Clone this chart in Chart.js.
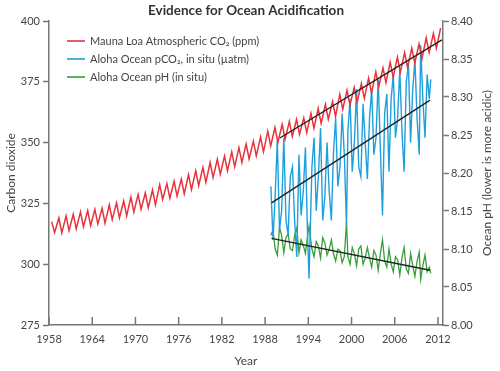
<!DOCTYPE html>
<html>
<head>
  <meta charset="utf-8">
  <title>Evidence for Ocean Acidification</title>
  <script src="https://cdn.jsdelivr.net/npm/chart.js"></script>
  <style>
    body { margin: 0; background: #fff; }
    canvas { display: block; }
  </style>
</head>
<body>
<canvas id="acidChart" width="500" height="371"></canvas>

<script>
  // Mauna Loa CO2 (ppm): seasonal peak (May) and trough (Oct) per year
  const co2Years = [];
  for (let y = 1958; y <= 2012; y++) co2Years.push(y);
  const co2Peak = [317.5, 319.0, 319.9, 320.6, 321.5, 322.0, 322.6, 323.0, 324.4, 325.2,
                   326.0, 327.6, 328.7, 329.3, 330.5, 332.7, 333.2, 334.1, 335.0, 336.8,
                   338.4, 339.8, 341.8, 343.1, 344.5, 346.2, 347.9, 349.4, 350.6, 352.3,
                   354.7, 356.2, 357.5, 358.7, 359.5, 360.2, 362.0, 364.0, 365.7, 366.9,
                   369.8, 371.5, 372.7, 374.3, 376.5, 379.0, 380.7, 383.0, 385.1, 387.0,
                   388.8, 390.6, 393.1, 394.9, 397.1];
  const co2Trough = [313.0, 312.9, 313.8, 314.5, 315.4, 315.9, 316.5, 316.9, 318.3, 319.1,
                     319.9, 321.5, 322.6, 323.2, 324.4, 326.6, 327.1, 328.0, 328.9, 330.7,
                     332.3, 333.7, 335.7, 337.0, 338.4, 340.1, 341.8, 343.3, 344.5, 346.2,
                     348.6, 350.1, 351.4, 352.6, 353.4, 354.1, 355.9, 357.9, 359.6, 360.8,
                     363.7, 365.4, 366.6, 368.2, 370.4, 372.9, 374.6, 376.9, 379.0, 380.9,
                     382.7, 384.5, 387.0, 388.8];

  // Station ALOHA samples (decimal year)
  const hotTime = [1988.8, 1989.1, 1989.4, 1989.7, 1990.0, 1990.3, 1990.6, 1990.9, 1991.2, 1991.5,
                   1991.8, 1992.1, 1992.4, 1992.7, 1993.0, 1993.3, 1993.6, 1993.9, 1994.1, 1994.5,
                   1994.8, 1995.1, 1995.4, 1995.7, 1996.0, 1996.3, 1996.6, 1996.9, 1997.2, 1997.5,
                   1997.8, 1998.1, 1998.4, 1998.7, 1999.0, 1999.3, 1999.5, 1999.8, 2000.1, 2000.4,
                   2000.7, 2001.0, 2001.3, 2001.6, 2001.9, 2002.2, 2002.5, 2002.8, 2003.1, 2003.4,
                   2003.7, 2004.0, 2004.3, 2004.6, 2004.9, 2005.2, 2005.5, 2005.8, 2006.1, 2006.4,
                   2006.7, 2007.0, 2007.3, 2007.6, 2007.9, 2008.2, 2008.5, 2008.8, 2009.1, 2009.4,
                   2009.6, 2009.9, 2010.2, 2010.5, 2010.8, 2011.0];
  const pco2Uatm = [332, 310, 328, 351, 314, 322, 352, 318, 312, 336,
                    340, 318, 303, 345, 320, 330, 348, 312, 294, 340,
                    352, 322, 336, 356, 318, 328, 350, 330, 318, 346,
                    360, 332, 340, 362, 345, 316, 355, 368, 338, 350,
                    372, 340, 336, 366, 350, 335, 360, 372, 345, 352,
                    376, 348, 320, 362, 370, 338, 368, 378, 352, 360,
                    380, 355, 338, 375, 382, 350, 372, 384, 360, 345,
                    390, 368, 352, 378, 368, 376];
  const oceanPh = [8.118, 8.125, 8.100, 8.092, 8.128, 8.118, 8.095, 8.115, 8.120, 8.100,
                   8.098, 8.118, 8.128, 8.095, 8.112, 8.105, 8.094, 8.118, 8.130, 8.100,
                   8.090, 8.110, 8.104, 8.088, 8.115, 8.108, 8.092, 8.100, 8.112, 8.094,
                   8.084, 8.100, 8.098, 8.082, 8.090, 8.135, 8.090, 8.080, 8.102, 8.094,
                   8.078, 8.100, 8.104, 8.080, 8.088, 8.102, 8.088, 8.076, 8.098, 8.092,
                   8.072, 8.094, 8.112, 8.084, 8.076, 8.100, 8.080, 8.070, 8.090, 8.086,
                   8.066, 8.088, 8.102, 8.074, 8.068, 8.094, 8.078, 8.064, 8.084, 8.096,
                   8.060, 8.078, 8.092, 8.070, 8.076, 8.068];

  // Trend lines (start / end)
  const co2TrendX = [1990.05, 2012.55], co2TrendY = [351.9, 392.2];
  const pco2TrendX = [1988.9, 2010.9], pco2TrendY = [325.2, 367.5];
  const phTrendX = [1988.9, 2010.9], phTrendY = [8.114, 8.072];

  // Axis ticks
  const yearTicks = [1958, 1964, 1970, 1976, 1982, 1988, 1994, 2000, 2006, 2012];
  const co2Ticks = [275, 300, 325, 350, 375, 400];
  const phTicks = [8.00, 8.05, 8.10, 8.15, 8.20, 8.25, 8.30, 8.35, 8.40];

  const legendLabels = ['Mauna Loa Atmospheric CO\u2082 (ppm)',
                        'Aloha Ocean pCO\u2082, in situ (\u00b5atm)',
                        'Aloha Ocean pH (in situ)'];
  const rightTitle = 'Ocean pH (lower is more acidic)';

  const RED = '#e8323c', BLUE = '#1fa0dc', GREEN = '#3a9e3a', TREND = '#222';
  const AXIS = '#777', TEXT = '#444';
  const FONT = 'Lato, "Open Sans", sans-serif';

  const co2Points = [];
  co2Years.forEach((yr, i) => {
    co2Points.push({x: yr + 0.37, y: co2Peak[i]});
    if (i < co2Trough.length) co2Points.push({x: yr + 0.78, y: co2Trough[i]});
  });
  const zip = (xs, ys) => xs.map((x, i) => ({x: x, y: ys[i]}));

  // inside x ticks, right axis title, legend
  const extras = {
    id: 'extras',
    afterDraw(chart) {
      const {ctx, chartArea, scales} = chart;
      ctx.save();
      ctx.strokeStyle = AXIS;
      ctx.lineWidth = 1.5;
      scales.x.ticks.forEach(t => {
        const px = scales.x.getPixelForValue(t.value);
        ctx.beginPath();
        ctx.moveTo(px, chartArea.bottom);
        ctx.lineTo(px, chartArea.bottom - 8);
        ctx.stroke();
      });

      ctx.fillStyle = TEXT;
      ctx.font = '12px ' + FONT;
      ctx.textAlign = 'center';
      ctx.textBaseline = 'middle';
      ctx.save();
      ctx.translate(487, (chartArea.top + chartArea.bottom) / 2);
      ctx.rotate(-Math.PI / 2);
      ctx.fillText(rightTitle, 0, 0);
      ctx.restore();

      ctx.font = '11px ' + FONT;
      ctx.textAlign = 'left';
      [RED, BLUE, GREEN].forEach((c, i) => {
        const y = chartArea.top + 20 + i * 18;
        ctx.strokeStyle = c;
        ctx.lineWidth = 1.6;
        ctx.beginPath();
        ctx.moveTo(chartArea.left + 18, y);
        ctx.lineTo(chartArea.left + 36, y);
        ctx.stroke();
        ctx.fillStyle = TEXT;
        ctx.fillText(legendLabels[i], chartArea.left + 41, y);
      });
      ctx.restore();
    }
  };

  new Chart(document.getElementById('acidChart').getContext('2d'), {
    type: 'line',
    data: {
      datasets: [
        { label: 'CO2 trend', data: zip(co2TrendX, co2TrendY), borderColor: TREND, borderWidth: 1.4, yAxisID: 'y', order: 0 },
        { label: 'pCO2 trend', data: zip(pco2TrendX, pco2TrendY), borderColor: TREND, borderWidth: 1.4, yAxisID: 'y', order: 0 },
        { label: 'pH trend', data: zip(phTrendX, phTrendY), borderColor: TREND, borderWidth: 1.4, yAxisID: 'y1', order: 0 },
        { label: legendLabels[0], data: co2Points, borderColor: RED, borderWidth: 1.5, yAxisID: 'y', order: 1 },
        { label: legendLabels[1], data: zip(hotTime, pco2Uatm), borderColor: BLUE, borderWidth: 1.4, yAxisID: 'y', order: 2 },
        { label: legendLabels[2], data: zip(hotTime, oceanPh), borderColor: GREEN, borderWidth: 1.3, yAxisID: 'y1', order: 3 }
      ]
    },
    options: {
      responsive: false,
      animation: false,
      devicePixelRatio: 1,
      elements: { point: { radius: 0 }, line: { tension: 0, fill: false } },
      layout: { padding: 0 },
      plugins: {
        legend: { display: false },
        tooltip: { enabled: false },
        title: {
          display: true,
          text: 'Evidence for Ocean Acidification',
          fullSize: false,
          color: '#333',
          font: { family: FONT, size: 13.5, weight: 'bold' },
          padding: { top: 3, bottom: 1.8 }
        }
      },
      scales: {
        x: {
          type: 'linear',
          min: 1958,
          max: 2012.7,
          afterBuildTicks: s => { s.ticks = yearTicks.map(v => ({value: v})); },
          afterFit: s => { s.height = 46; },
          ticks: { callback: v => String(v), color: TEXT, font: { family: FONT, size: 11 }, padding: 8, maxRotation: 0, autoSkip: false },
          grid: { drawOnChartArea: false, drawTicks: false },
          border: { color: AXIS, width: 1.5 },
          title: { display: true, text: 'Year', color: TEXT, font: { family: FONT, size: 12 }, padding: { top: 0, bottom: 3 } }
        },
        y: {
          position: 'left',
          min: 275,
          max: 400,
          afterBuildTicks: s => { s.ticks = co2Ticks.map(v => ({value: v})); },
          afterFit: s => { s.width = 49; },
          ticks: { color: TEXT, font: { family: FONT, size: 11 }, padding: 3 },
          grid: { drawOnChartArea: false, tickLength: 6, tickColor: AXIS, tickWidth: 1.5 },
          border: { color: AXIS, width: 1.5 },
          title: { display: true, text: 'Carbon dioxide', color: TEXT, font: { family: FONT, size: 12 }, padding: { top: 4, bottom: 0 } }
        },
        y1: {
          position: 'right',
          min: 8.0,
          max: 8.4,
          afterBuildTicks: s => { s.ticks = phTicks.map(v => ({value: v})); },
          afterFit: s => { s.width = 57; },
          ticks: { callback: v => v.toFixed(2), color: TEXT, font: { family: FONT, size: 11 }, padding: 2 },
          grid: { drawOnChartArea: false, tickLength: 6, tickColor: AXIS, tickWidth: 1.5 },
          border: { color: AXIS, width: 1.5 }
        }
      }
    },
    plugins: [extras]
  });
</script>
</body>
</html>
